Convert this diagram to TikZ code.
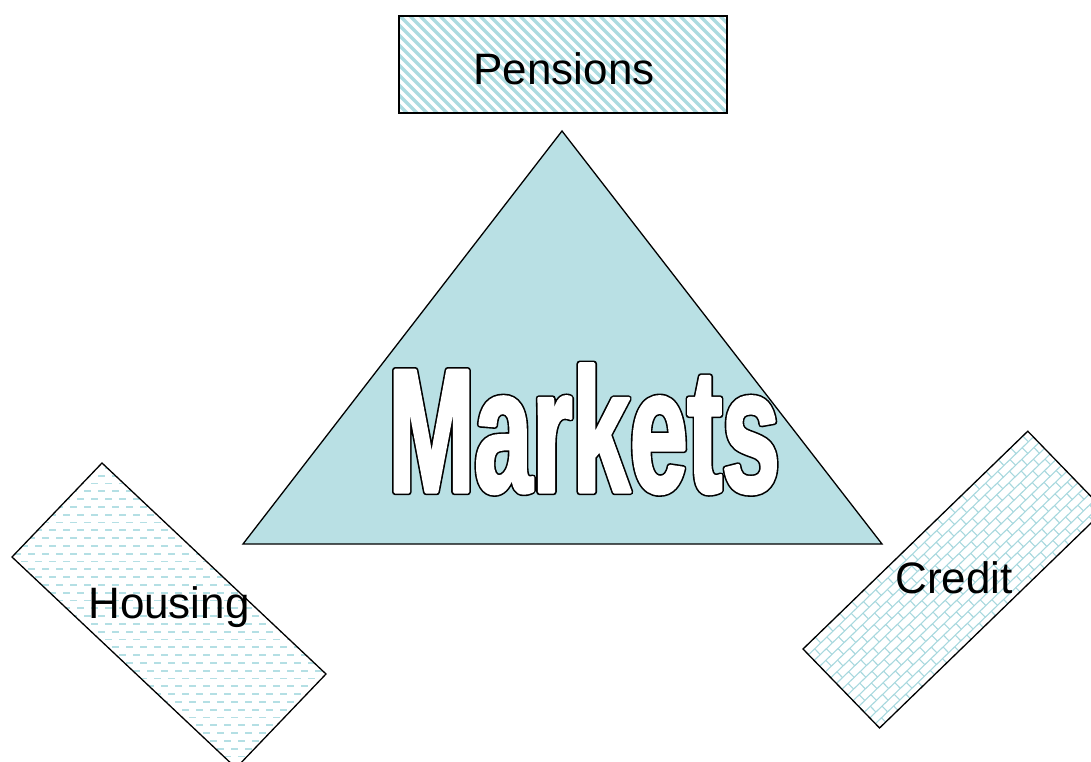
\documentclass[tikz,border=0pt]{standalone}
\usepackage{fontspec}
\setmainfont{Liberation Sans}
\newfontfamily\mkfont[FakeStretch=0.585]{Liberation Sans}
\definecolor{trifill}{RGB}{185,224,228}
\definecolor{stripe}{RGB}{172,219,224}
\definecolor{dashc}{RGB}{180,223,228}
\definecolor{brick}{RGB}{168,216,222}
\tikzset{
  lab/.style={font=\fontsize{44}{44}\selectfont, anchor=base, inner sep=0pt},
  box/.style={draw=black, line width=1.3pt},
  mk/.style={font=\mkfont\fontsize{177}{177}\bfseries\selectfont, anchor=base, inner sep=0pt}
}
\begin{document}
\begin{tikzpicture}[x=1pt,y=-1pt]
\useasboundingbox (0,0) rectangle (1091,762);
\clip (0,0) rectangle (1091,762);
% Pensions
\begin{scope}
  \clip (399,16) rectangle (727,113);
  \foreach \x in {280,290,...,740} \draw[stripe, line width=3.4pt] (\x,6) -- (\x+120,126);
\end{scope}
\draw[box] (399,16) rectangle (727,113);
\node[lab] (pensions) at (564,85) {Pensions};
% Triangle
\draw[box, fill=trifill] (562,131) -- (882,544) -- (243,544) -- cycle;
\coordinate (mkpos) at (584,492);
\node[mk, text=black] (mkshadow) at (mkpos) {\special{pdf:literal direct 2 Tr 6.4 w 1 j}Markets\special{pdf:literal direct 0 Tr}};
\node[mk, text=white] (markets) at (mkpos) {\special{pdf:literal direct 2 Tr 3.2 w 1 j}Markets\special{pdf:literal direct 0 Tr}};
% Housing
\begin{scope}
  \clip (102,463) -- (326,674) -- (236,768) -- (12,557) -- cycle;
  \foreach \y in {460,475.6,...,775} \draw[dashc, line width=1.8pt, dash pattern=on 7pt off 7pt] (0,\y) -- (340,\y);
  \foreach \y in {467.8,483.4,...,775} \draw[dashc, line width=1.8pt, dash pattern=on 7pt off 7pt, dash phase=7pt] (0,\y) -- (340,\y);
\end{scope}
\draw[box] (102,463) -- (326,674) -- (236,768) -- (12,557) -- cycle;
\node[lab] (housing) at (169,618) {Housing};
% Credit
\begin{scope}[shift={(803,649)}, rotate=44.1]
  \begin{scope}
    \clip (0,0) rectangle (313,110);
    \foreach \j in {0,...,14} {
      \draw[brick, line width=1.1pt] (0,\j*8) -- (313,\j*8);
      \pgfmathsetmacro{\off}{mod(\j,2)*8.5}
      \foreach \i in {0,...,19} \draw[brick, line width=1.1pt] (\i*17+\off,\j*8) -- (\i*17+\off,\j*8+8);
    }
  \end{scope}
  \draw[box] (0,0) rectangle (313,110);
\end{scope}
\node[lab] (credit) at (954,593) {Credit};
\end{tikzpicture}
\end{document}
